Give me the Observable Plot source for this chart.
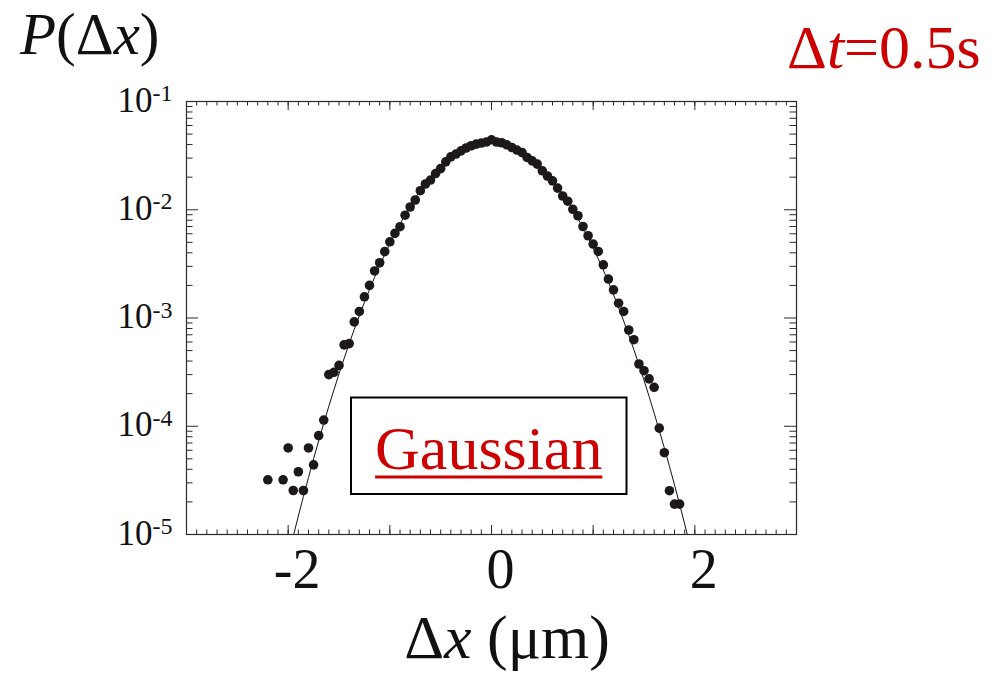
<!DOCTYPE html>
<html>
<head>
<meta charset="utf-8">
<script src="https://cdn.jsdelivr.net/npm/d3@7"></script>
<script src="https://cdn.jsdelivr.net/npm/@observablehq/plot@0.6"></script>
<style>
  html, body { margin: 0; padding: 0; background: #fff; }
  #wrap { position: relative; width: 1000px; height: 673px; overflow: hidden; }
  #wrap > svg { position: absolute; left: 0; top: 0; }
</style>
</head>
<body>
<div id="wrap"></div>
<script>
// ---- data ----
// measured displacement histogram, Δt = 0.5 s (bin centres in μm, probability per bin)
const dx = [-2.20, -2.05, -2.00, -1.95, -1.90, -1.85, -1.80, -1.75, -1.70, -1.65,
  -1.60, -1.55, -1.50, -1.45, -1.40, -1.35, -1.30, -1.25, -1.20, -1.15,
  -1.10, -1.05, -1.00, -0.95, -0.90, -0.85, -0.80, -0.75, -0.70, -0.65,
  -0.60, -0.55, -0.50, -0.45, -0.40, -0.35, -0.30, -0.25, -0.20, -0.15,
  -0.10, -0.05, 0.00, 0.05, 0.10, 0.15, 0.20, 0.25, 0.30, 0.35,
  0.40, 0.45, 0.50, 0.55, 0.60, 0.65, 0.70, 0.75, 0.80, 0.85,
  0.90, 0.95, 1.00, 1.05, 1.10, 1.15, 1.20, 1.25, 1.30, 1.35,
  1.40, 1.45, 1.50, 1.55, 1.60, 1.65, 1.70, 1.75, 1.80, 1.85];
const prob = [3.2e-5, 3.2e-5, 6.3e-5, 2.55e-5, 3.8e-5, 2.55e-5, 6.3e-5, 4.4e-5, 8.2e-5, 1.14e-4,
  3.0e-4, 3.15e-4, 3.65e-4, 5.65e-4, 5.8e-4, 9.2e-4, 1.15e-3, 1.57e-3, 2.0e-3, 2.72e-3,
  3.24e-3, 4.1e-3, 5.06e-3, 6.05e-3, 6.97e-3, 8.9e-3, 1.06e-2, 1.23e-2, 1.5e-2, 1.73e-2,
  1.88e-2, 2.16e-2, 2.4e-2, 2.77e-2, 3.08e-2, 3.27e-2, 3.5e-2, 3.72e-2, 3.9e-2, 4.04e-2,
  4.13e-2, 4.22e-2, 4.43e-2, 4.22e-2, 4.16e-2, 3.98e-2, 3.76e-2, 3.56e-2, 3.38e-2, 3.04e-2,
  2.83e-2, 2.64e-2, 2.29e-2, 2.05e-2, 1.85e-2, 1.585e-2, 1.34e-2, 1.2e-2, 1.01e-2, 8.8e-3,
  7.0e-3, 5.75e-3, 4.82e-3, 4.12e-3, 3.1e-3, 2.29e-3, 1.82e-3, 1.37e-3, 1.15e-3, 7.75e-4,
  6.3e-4, 3.76e-4, 3.26e-4, 2.74e-4, 2.29e-4, 9.6e-5, 5.7e-5, 2.54e-5, 1.91e-5, 1.91e-5];

// Gaussian fit line
const fitX = [-2.0, -1.9, -1.8, -1.7, -1.6, -1.5, -1.4, -1.3, -1.2, -1.1,
  -1.0, -0.9, -0.8, -0.7, -0.6, -0.5, -0.4, -0.3, -0.2, -0.1,
  0.0, 0.1, 0.2, 0.3, 0.4, 0.5, 0.6, 0.7, 0.8, 0.9,
  1.0, 1.1, 1.2, 1.3, 1.4, 1.5, 1.6, 1.7, 1.8, 1.9, 2.0];
const fitP = [6.2e-6, 1.48e-5, 3.37e-5, 7.34e-5, 1.53e-4, 3.04e-4, 5.79e-4, 1.05e-3, 1.83e-3, 3.05e-3,
  4.86e-3, 7.39e-3, 1.076e-2, 1.50e-2, 1.99e-2, 2.54e-2, 3.09e-2, 3.60e-2, 4.00e-2, 4.26e-2,
  4.34e-2, 4.23e-2, 3.93e-2, 3.50e-2, 2.98e-2, 2.43e-2, 1.89e-2, 1.41e-2, 1.00e-2, 6.82e-3,
  4.44e-3, 2.77e-3, 1.65e-3, 9.37e-4, 5.11e-4, 2.66e-4, 1.32e-4, 6.30e-5, 2.87e-5, 1.25e-5, 5.2e-6];

// axis ticks and labels
const xDomain = [-3, 3];
const xLabelTicks = [-2, 0, 2];
const xMajorTicks = [-3, -2, -1, 0, 1, 2, 3];
const yDomain = [1e-5, 1e-1];
const yMajorTicks = [1e-5, 1e-4, 1e-3, 1e-2, 1e-1];
const yExponents = ["-5", "-4", "-3", "-2", "-1"];
const yMantissa = "10";

const titleText = "P(Δx)";
const xAxisText = "Δx (μm)";
const timeText = "Δt=0.5s";
const legendText = "Gaussian";

// ---- build ----
const points = dx.map((x, i) => ({x, p: prob[i]}));
const fit = fitX.map((x, i) => ({x, p: fitP[i]}));
const xMinorTicks = d3.range(-30, 31).map(i => i / 10);
const yMinorTicks = [];
for (let e = -5; e <= -2; e++) for (let m = 2; m <= 9; m++) yMinorTicks.push(m * Math.pow(10, e));
const yLabels = yMajorTicks.map((v, i) => ({v, e: yExponents[i]}));

const W = 1000, H = 673;
const mL = 186, mR = 204, mT = 101, mB = 139;
const fw = W - mL - mR, fh = H - mT - mB;
const ink = "#2a2a2a";

const chart = Plot.plot({
  width: W, height: H,
  marginLeft: mL, marginRight: mR, marginTop: mT, marginBottom: mB,
  style: {fontFamily: "'Liberation Serif', 'Times New Roman', serif", background: "transparent", color: "#111"},
  x: {domain: xDomain},
  y: {type: "log", domain: yDomain, axis: null},
  marks: [
    // inward minor / major ticks on all four sides
    Plot.ruleX(xMinorTicks, {x: d => d, insetTop: fh - 4.5, stroke: ink, strokeWidth: 1}),
    Plot.ruleX(xMinorTicks, {x: d => d, insetBottom: fh - 4.5, stroke: ink, strokeWidth: 1}),
    Plot.ruleX(xMajorTicks, {x: d => d, insetTop: fh - 9, stroke: ink, strokeWidth: 1}),
    Plot.ruleX(xMajorTicks, {x: d => d, insetBottom: fh - 9, stroke: ink, strokeWidth: 1}),
    Plot.ruleY(yMinorTicks, {y: d => d, insetRight: fw - 6.5, stroke: ink, strokeWidth: 1}),
    Plot.ruleY(yMinorTicks, {y: d => d, insetLeft: fw - 6.5, stroke: ink, strokeWidth: 1}),
    Plot.ruleY(yMajorTicks, {y: d => d, insetRight: fw - 12, stroke: ink, strokeWidth: 1}),
    Plot.ruleY(yMajorTicks, {y: d => d, insetLeft: fw - 12, stroke: ink, strokeWidth: 1}),
    Plot.frame({stroke: ink, strokeWidth: 1.2}),
    // fit line and measured points
    Plot.line(fit, {x: "x", y: "p", curve: "natural", stroke: "#111", strokeWidth: 1, clip: true}),
    Plot.dot(points, {x: "x", y: "p", r: 4.8, fill: "#1d1919", stroke: null}),
    // x tick labels
    Plot.axisX(xLabelTicks, {anchor: "bottom", tickSize: 0, tickPadding: 14, fontSize: 56, dx: 9, label: null, tickFormat: d => String(d)}),
    // y tick labels: 10 with superscript exponent
    Plot.text(yLabels, {y: "v", text: () => yMantissa, frameAnchor: "left", textAnchor: "end", dx: -34, dy: -1, fontSize: 35, fill: "#111"}),
    Plot.text(yLabels, {y: "v", text: "e", frameAnchor: "left", textAnchor: "end", dx: -14, dy: -8, fontSize: 24, fill: "#111"})
  ]
});

const wrap = document.getElementById("wrap");
wrap.appendChild(chart);

// ---- overlay texts (titles, axis title, legend box) ----
const ov = d3.select(wrap).append("svg")
  .attr("width", W).attr("height", H)
  .style("font-family", "'Liberation Serif', 'Times New Roman', serif");

const t1 = ov.append("text").attr("x", 20).attr("y", 54).attr("font-size", 59).attr("fill", "#111");
t1.append("tspan").attr("font-style", "italic").text(titleText.slice(0, 1));
t1.append("tspan").text(titleText.slice(1, 3));
t1.append("tspan").attr("font-style", "italic").text(titleText.slice(3, 4));
t1.append("tspan").text(titleText.slice(4));

const t2 = ov.append("text").attr("x", 787).attr("y", 68).attr("font-size", 62).attr("fill", "#cc0000");
t2.append("tspan").text(timeText.slice(0, 1));
t2.append("tspan").attr("font-style", "italic").text(timeText.slice(1, 2));
t2.append("tspan").text(timeText.slice(2));

const t3 = ov.append("text").attr("x", 507).attr("y", 658).attr("font-size", 62)
  .attr("text-anchor", "middle").attr("fill", "#111");
t3.append("tspan").text(xAxisText.slice(0, 1));
t3.append("tspan").attr("font-style", "italic").text(xAxisText.slice(1, 2));
t3.append("tspan").text(xAxisText.slice(2));

// legend box
const bx = 351, by = 397.5, bw = 275.5, bh = 96.5;
ov.append("rect").attr("x", bx).attr("y", by).attr("width", bw).attr("height", bh)
  .attr("fill", "white").attr("stroke", "#000").attr("stroke-width", 2);
const g = ov.append("text").attr("x", bx + bw / 2).attr("y", 468.5).attr("font-size", 62)
  .attr("text-anchor", "middle").attr("fill", "#cc0000").text(legendText);
const len = g.node().getComputedTextLength();
ov.append("rect").attr("x", bx + bw / 2 - len / 2).attr("y", 475.5).attr("width", len).attr("height", 3)
  .attr("fill", "#cc0000");
</script>
</body>
</html>
